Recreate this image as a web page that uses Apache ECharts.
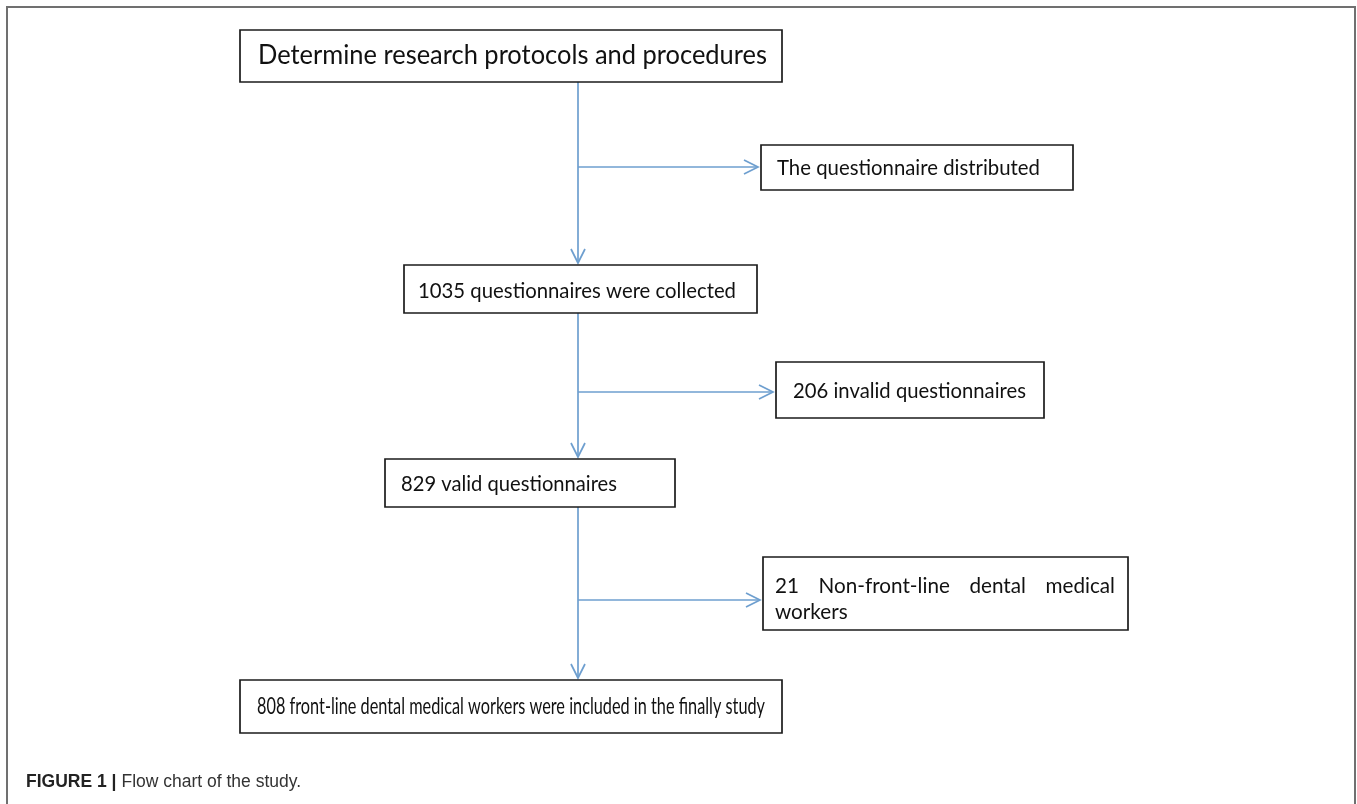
<!DOCTYPE html>
<html>
<head>
<meta charset="utf-8">
<script src="https://cdn.jsdelivr.net/npm/echarts@6/dist/echarts.min.js"></script>
<style>
  html, body { margin: 0; padding: 0; background: #fff; }
  #chart { width: 1357px; height: 804px; }
</style>
</head>
<body>
<div id="chart"></div>
<script>
// 流程图文字
const mainSteps = [
  'Determine research protocols and procedures',
  '1035 questionnaires were collected',
  '829 valid questionnaires',
  '808 front-line dental medical workers were included in the finally study'
]
const sideSteps = [
  'The questionnaire distributed',
  '206 invalid questionnaires',
  '21 Non-front-line dental medical\nworkers'
]
const captionBold = 'FIGURE 1 |'
const captionText = 'Flow chart of the study.'

// 版面（坐标轴单位 = 像素）
const spineX = 578
const mainBoxes = [[240, 30, 782, 82], [404, 265, 757, 313], [385, 459, 675, 507], [240, 680, 782, 733]]
const sideBoxes = [[761, 145, 1073, 190], [776, 362, 1044, 418], [763, 557, 1128, 630]]
const branchY = [167, 392, 600]
// 文字位置 [左, 右, 中线y, 字号]
const mainTextPos = [[258, 767, 56, 26], [418, 736, 291, 22], [401, 617, 484, 22], [257, 765, 707, 23]]
const sideTextPos = [[777, 1040, 168, 22], [793, 1026, 391, 22], [775, 1115, 586, 22]]

const FONT = 'Lato'
const ctx = document.createElement('canvas').getContext('2d')
const measure = (t, size) => { ctx.font = size + 'px ' + FONT; return ctx.measureText(t).width }

const LINE = '#6e9fcf'
const chart = echarts.init(document.getElementById('chart'))

const textEl = (api, t, x, y, size, sx) => {
  const p = api.coord([x, y])
  return {
    type: 'text', x: p[0], y: p[1], scaleX: sx,
    style: { text: t, fontFamily: FONT, fontSize: size, fill: '#111', align: 'left', verticalAlign: 'middle' }
  }
}

const boxItem = (boxes, labels, textPos) => (params, api) => {
  const i = params.dataIndex
  const b = boxes[i]
  const p0 = api.coord([b[0], b[1]])
  const p1 = api.coord([b[2], b[3]])
  const children = [{
    type: 'rect',
    shape: { x: p0[0], y: p0[1], width: p1[0] - p0[0], height: p1[1] - p0[1] },
    style: { fill: '#fff', stroke: '#1b1b1b', lineWidth: 1.7 }
  }]
  const tp = textPos[i]
  const lines = labels[i].split('\n')
  if (lines.length === 1) {
    const sx = (tp[1] - tp[0]) / measure(lines[0], tp[3])
    children.push(textEl(api, lines[0], tp[0], tp[2], tp[3], sx))
  } else {
    // 两端对齐的第一行
    const sx = 0.94
    const words = lines[0].split(' ')
    const ws = words.map(w => measure(w, tp[3]) * sx)
    const gap = (tp[1] - tp[0] - ws.reduce((a, c) => a + c, 0)) / (words.length - 1)
    let x = tp[0]
    words.forEach((w, k) => { children.push(textEl(api, w, x, tp[2], tp[3], sx)); x += ws[k] + gap })
    lines.slice(1).forEach((l, k) => children.push(textEl(api, l, tp[0], tp[2] + 26 * (k + 1), tp[3], sx)))
  }
  return { type: 'group', children }
}

// 连接线：主干 + 分支
const arrows = []
for (let i = 0; i < mainBoxes.length - 1; i++) {
  arrows.push({ from: [spineX, mainBoxes[i][3]], to: [spineX, mainBoxes[i + 1][1] - 2], dir: 'down' })
  arrows.push({ from: [spineX, branchY[i]], to: [sideBoxes[i][0] - 3, branchY[i]], dir: 'right' })
}

const arrowItem = (params, api) => {
  const a = arrows[params.dataIndex]
  const s = api.coord(a.from)
  const e = api.coord(a.to)
  const head = a.dir === 'down'
    ? [[e[0] - 7, e[1] - 14], e, [e[0] + 7, e[1] - 14]]
    : [[e[0] - 14, e[1] - 7], e, [e[0] - 14, e[1] + 7]]
  const st = { stroke: LINE, lineWidth: 1.7, fill: null }
  return {
    type: 'group',
    children: [
      { type: 'line', shape: { x1: s[0], y1: s[1], x2: e[0], y2: e[1] }, style: st },
      { type: 'polyline', shape: { points: head }, style: st }
    ]
  }
}

const option = {
  animation: false,
  backgroundColor: '#fff',
  grid: { left: 0, right: 0, top: 0, bottom: 0 },
  xAxis: { type: 'value', min: 0, max: 1357, show: false },
  yAxis: { type: 'value', min: 0, max: 804, inverse: true, show: false },
  title: {
    left: 21, top: 768,
    text: '{b|' + captionBold + '} {n|' + captionText + '}',
    textStyle: {
      fontWeight: 'normal',
      rich: {
        b: { fontFamily: 'Liberation Sans', fontWeight: 'bold', fontSize: 17.5, color: '#222' },
        n: { fontFamily: 'Liberation Sans', fontWeight: 'normal', fontSize: 17.5, color: '#333' }
      }
    }
  },
  graphic: [{
    type: 'polyline',
    shape: { points: [[7, 804], [7, 7], [1355, 7], [1355, 804]] },
    style: { stroke: '#707070', lineWidth: 2, fill: null }
  }],
  series: [
    { type: 'custom', renderItem: arrowItem, data: arrows.map((_, i) => i), silent: true },
    { type: 'custom', renderItem: boxItem(mainBoxes, mainSteps, mainTextPos), data: mainSteps.map((_, i) => i), silent: true },
    { type: 'custom', renderItem: boxItem(sideBoxes, sideSteps, sideTextPos), data: sideSteps.map((_, i) => i), silent: true }
  ]
}

chart.setOption(option)
</script>
</body>
</html>
